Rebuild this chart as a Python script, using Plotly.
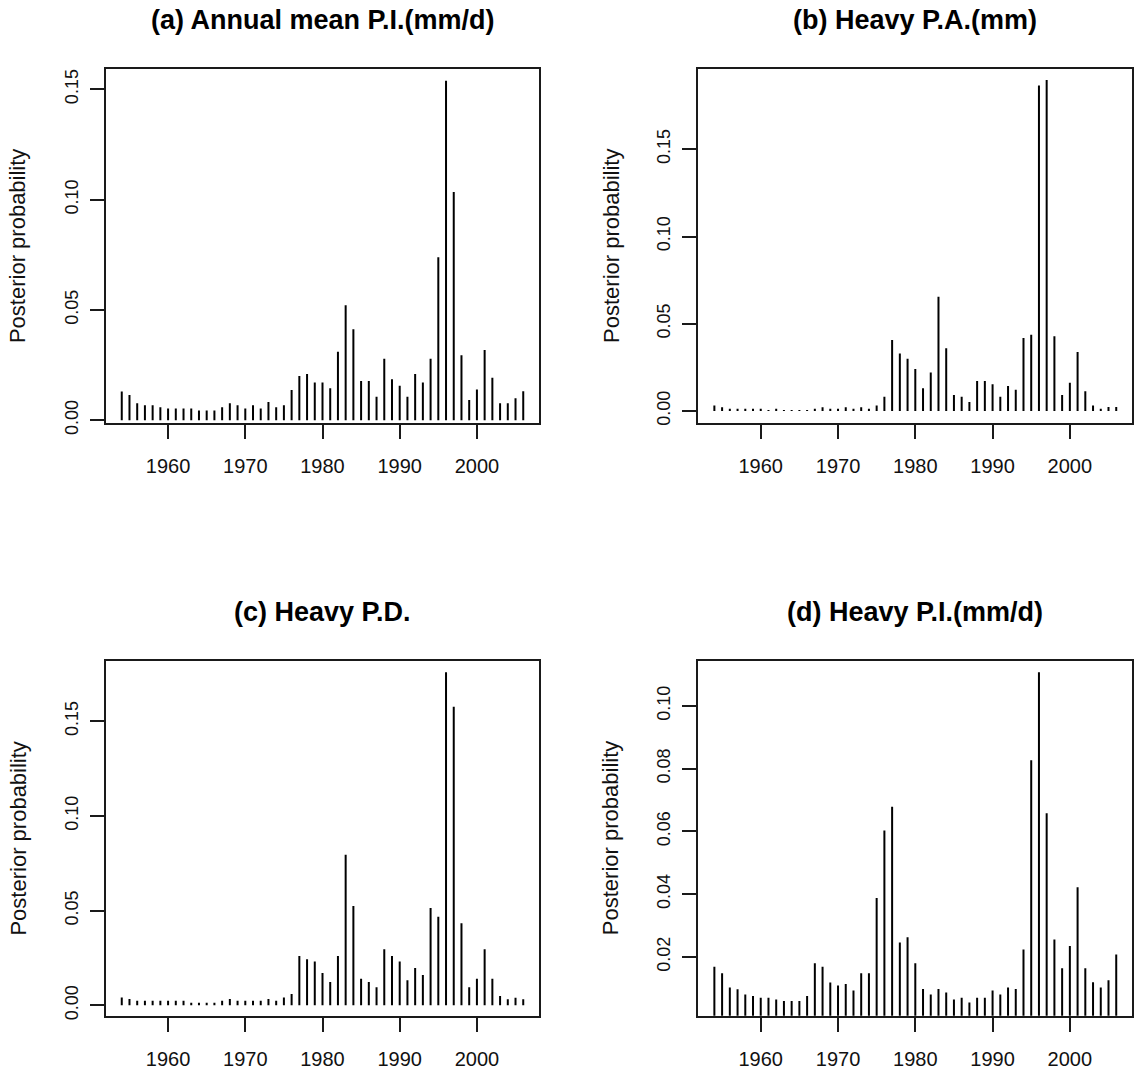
import plotly.graph_objects as go

# ---------------- data ----------------
years = list(range(1954, 2007))

titles = ["(a) Annual mean P.I.(mm/d)", "(b) Heavy P.A.(mm)",
          "(c) Heavy P.D.", "(d) Heavy P.I.(mm/d)"]
y_label = "Posterior probability"
x_tick_vals = [1960, 1970, 1980, 1990, 2000]

a_vals = [0.0130, 0.0115, 0.0077, 0.0068, 0.0068, 0.0059, 0.0053, 0.0053, 0.0053, 0.0053,
          0.0044, 0.0044, 0.0044, 0.0059, 0.0077, 0.0068, 0.0053, 0.0068, 0.0053, 0.0083,
          0.0059, 0.0068, 0.0137, 0.0201, 0.0210, 0.0171, 0.0171, 0.0145, 0.0310, 0.0521,
          0.0412, 0.0178, 0.0178, 0.0107, 0.0279, 0.0186, 0.0156, 0.0107, 0.0210, 0.0171,
          0.0279, 0.0739, 0.1539, 0.1035, 0.0295, 0.0092, 0.0139, 0.0319, 0.0193, 0.0077,
          0.0077, 0.0100, 0.0131]

b_vals = [0.0032, 0.0021, 0.0013, 0.0013, 0.0013, 0.0013, 0.0013, 0.0006, 0.0013, 0.0006,
          0.0006, 0.0006, 0.0006, 0.0013, 0.0021, 0.0013, 0.0013, 0.0021, 0.0013, 0.0021,
          0.0013, 0.0032, 0.0082, 0.0407, 0.0329, 0.0300, 0.0241, 0.0130, 0.0220, 0.0655,
          0.0359, 0.0092, 0.0082, 0.0052, 0.0172, 0.0172, 0.0153, 0.0082, 0.0143, 0.0122,
          0.0418, 0.0437, 0.1866, 0.1897, 0.0428, 0.0092, 0.0162, 0.0338, 0.0113, 0.0032,
          0.0013, 0.0023, 0.0023]

c_vals = [0.0042, 0.0033, 0.0025, 0.0025, 0.0025, 0.0025, 0.0025, 0.0025, 0.0025, 0.0014,
          0.0014, 0.0014, 0.0014, 0.0025, 0.0033, 0.0025, 0.0025, 0.0025, 0.0025, 0.0033,
          0.0025, 0.0042, 0.0060, 0.0260, 0.0243, 0.0232, 0.0171, 0.0123, 0.0260, 0.0795,
          0.0524, 0.0141, 0.0123, 0.0095, 0.0296, 0.0260, 0.0232, 0.0132, 0.0197, 0.0160,
          0.0514, 0.0468, 0.1757, 0.1576, 0.0433, 0.0095, 0.0141, 0.0296, 0.0141, 0.0049,
          0.0032, 0.0040, 0.0032]

d_vals = [0.0169, 0.0148, 0.0103, 0.0097, 0.0081, 0.0076, 0.0070, 0.0070, 0.0065, 0.0060,
          0.0060, 0.0060, 0.0076, 0.0180, 0.0169, 0.0119, 0.0109, 0.0114, 0.0093, 0.0148,
          0.0148, 0.0388, 0.0603, 0.0679, 0.0246, 0.0263, 0.0180, 0.0098, 0.0081, 0.0098,
          0.0087, 0.0065, 0.0070, 0.0055, 0.0070, 0.0070, 0.0093, 0.0081, 0.0103, 0.0098,
          0.0224, 0.0827, 0.1107, 0.0658, 0.0256, 0.0164, 0.0235, 0.0422, 0.0164, 0.0120,
          0.0103, 0.0126, 0.0208]

y_tick_sets = [[0.00, 0.05, 0.10, 0.15],
               [0.00, 0.05, 0.10, 0.15],
               [0.00, 0.05, 0.10, 0.15],
               [0.02, 0.04, 0.06, 0.08, 0.10]]

# ---------------- layout geometry ----------------
W, H = 1137, 1074
panels = [
    dict(vals=a_vals, x0=105.7, x1=539.3, y0=69.0, y1=422.7, yr=[-0.0011, 0.1592]),
    dict(vals=b_vals, x0=698.3, x1=1132.3, y0=69.0, y1=423.3, yr=[-0.00705, 0.1960]),
    dict(vals=c_vals, x0=105.7, x1=539.3, y0=661.0, y1=1015.7, yr=[-0.00545, 0.1817]),
    dict(vals=d_vals, x0=698.3, x1=1132.3, y0=661.0, y1=1015.7, yr=[0.00131, 0.1143]),
]
x_range = [1951.92, 2008.08]

FONT = "Liberation Sans, Arial, Helvetica, sans-serif"
INK = "#1a1a1a"

fig = go.Figure()
annotations = []
layout = {}

for i, p in enumerate(panels):
    n = i + 1
    xs, ys = [], []
    for yr, v in zip(years, p["vals"]):
        xs += [yr, yr, None]
        ys += [0, v, None]
    fig.add_trace(go.Scatter(
        x=xs, y=ys, mode="lines",
        line=dict(color="black", width=2),
        xaxis=f"x{n if n > 1 else ''}", yaxis=f"y{n if n > 1 else ''}",
        showlegend=False, hoverinfo="skip"))

    xk = "xaxis" if n == 1 else f"xaxis{n}"
    yk = "yaxis" if n == 1 else f"yaxis{n}"
    layout[xk] = dict(
        domain=[p["x0"] / W, p["x1"] / W],
        anchor=f"y{n if n > 1 else ''}",
        range=x_range, tickmode="array", tickvals=x_tick_vals,
        ticktext=[str(v) for v in x_tick_vals],
        ticks="outside", ticklen=14, tickwidth=2, tickcolor=INK,
        showline=True, linewidth=2, linecolor=INK, mirror=True,
        showgrid=False, zeroline=False, automargin=False,
        tickfont=dict(family=FONT, size=20, color="#111"),
        ticklabelstandoff=10,
    )
    layout[yk] = dict(
        domain=[1 - p["y1"] / H, 1 - p["y0"] / H],
        anchor=f"x{n if n > 1 else ''}",
        range=p["yr"], tickmode="array", tickvals=y_tick_sets[i],
        ticktext=[f"{v:.2f}" for v in y_tick_sets[i]],
        tickangle=-90,
        ticks="outside", ticklen=14, tickwidth=2, tickcolor=INK,
        showline=True, linewidth=2, linecolor=INK, mirror=True,
        showgrid=False, zeroline=False, automargin=False,
        tickfont=dict(family=FONT, size=18, color="#111"),
        ticklabelstandoff=5,
    )
    # panel title
    annotations.append(dict(
        text=f"<b>{titles[i]}</b>", xref="paper", yref="paper",
        x=(p["x0"] + p["x1"]) / 2 / W, y=1 - (p["y0"] - 49) / H,
        xanchor="center", yanchor="middle", showarrow=False,
        font=dict(family=FONT, size=27, color="black")))
    # y-axis label
    annotations.append(dict(
        text=y_label, xref="paper", yref="paper",
        x=(p["x0"] - 87.5) / W, y=1 - (p["y0"] + p["y1"]) / 2 / H,
        xanchor="center", yanchor="middle", textangle=-90, showarrow=False,
        font=dict(family=FONT, size=22, color="#111")))

fig.update_layout(
    width=W, height=H,
    margin=dict(l=0, r=0, t=0, b=0, autoexpand=False),
    paper_bgcolor="white", plot_bgcolor="white",
    annotations=annotations,
    **layout,
)

fig.write_html("out.html", config={"displayModeBar": False},
               post_script="document.body.style.margin='0px';document.body.style.overflow='hidden';")
